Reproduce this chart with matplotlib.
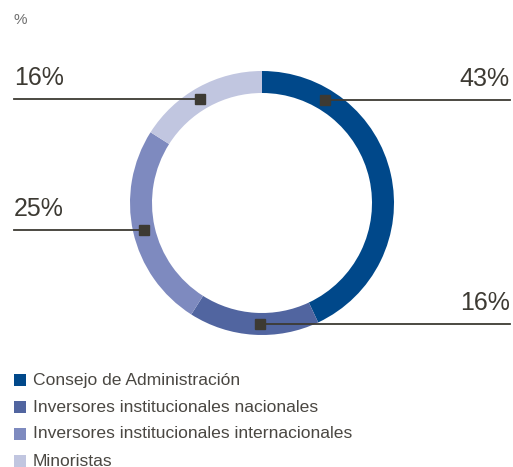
import matplotlib.pyplot as plt
import numpy as np

plt.rcParams['font.family'] = ['Liberation Sans', 'DejaVu Sans']

# datos
categorias = ['Consejo de Administración', 'Inversores institucionales nacionales',
              'Inversores institucionales internacionales', 'Minoristas']
valores = [43, 16, 25, 16]
colores = ['#00488a', '#5165a0', '#7e8abf', '#c1c6e0']
etiquetas = ['43%', '16%', '25%', '16%']

# posicion de las etiquetas (angulo del marcador, lado)
angulos = [58.8, -91, 193, 121]
lados = ['der', 'der', 'izq', 'izq']

W, H = 513, 467
fig = plt.figure(figsize=(W / 100, H / 100), dpi=100)
ax = fig.add_axes([0, 0, 1, 1])

cx, cy = 262, H - 203
r_ext, ancho = 132, 22
ax.pie(valores, colors=colores, startangle=90, counterclock=False,
       center=(cx, cy), radius=r_ext, frame=True,
       wedgeprops=dict(width=ancho, linewidth=0))
ax.set_xlim(0, W)
ax.set_ylim(0, H)
ax.set_aspect('equal')
ax.axis('off')

col_txt = '#3d3a33'
r_med = r_ext - ancho / 2
for ang, lado, et in zip(angulos, lados, etiquetas):
    mx = cx + r_med * np.cos(np.radians(ang))
    my = cy + r_med * np.sin(np.radians(ang))
    if lado == 'der':
        ax.plot([mx, 510], [my, my], color=col_txt, lw=1.3)
        ax.text(510, my + 9, et, ha='right', va='bottom', fontsize=18, color=col_txt)
    else:
        ax.plot([14, mx], [my, my], color=col_txt, lw=1.3)
        ax.text(14, my + 9, et, ha='left', va='bottom', fontsize=18, color=col_txt)
    ax.plot(mx, my, marker='s', ms=6.5, color=col_txt)

ax.text(14, H - 20, '%', ha='left', va='center', fontsize=11, color='#707070')

# leyenda
for i, (cat, c) in enumerate(zip(categorias, colores)):
    y = H - (380 + i * 27)
    ax.add_patch(plt.Rectangle((14, y - 6), 12, 12, color=c, lw=0))
    ax.text(33, y, cat, ha='left', va='center', fontsize=12.6, color='#4a4742')

fig.savefig('out.png', dpi=100)
